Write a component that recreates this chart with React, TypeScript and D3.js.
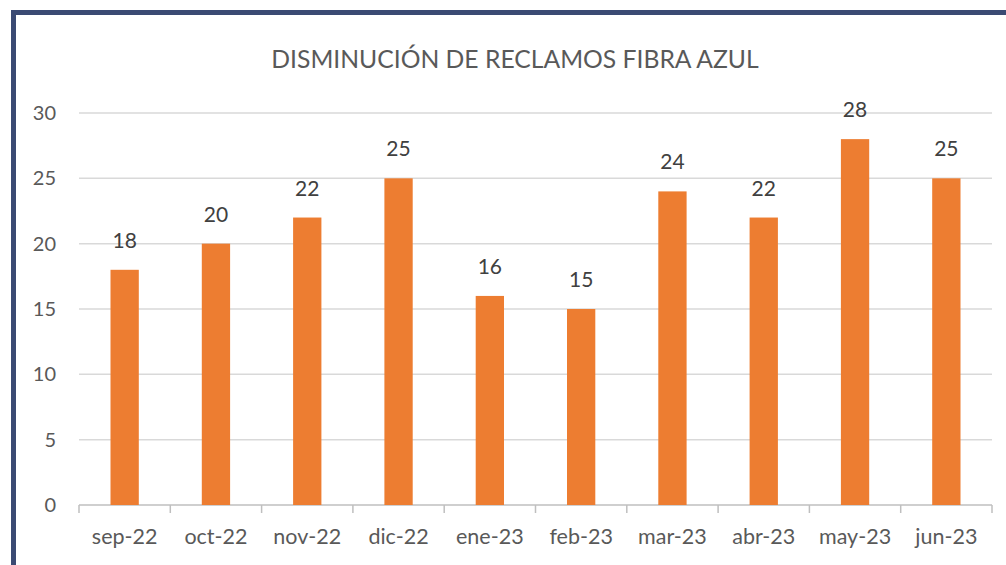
import React from "react";
import * as d3 from "d3";

const WIDTH = 1006;
const HEIGHT = 565;
const MARGIN = { top: 113, right: 14, bottom: 60, left: 79 };

const months = ["sep-22", "oct-22", "nov-22", "dic-22", "ene-23", "feb-23", "mar-23", "abr-23", "may-23", "jun-23"];
const reclamos = [18, 20, 22, 25, 16, 15, 24, 22, 28, 25];
const yTicks = [0, 5, 10, 15, 20, 25, 30];
const TITLE = "DISMINUCIÓN DE RECLAMOS FIBRA AZUL";

const FONT = "Lato, 'Open Sans', sans-serif";

const App = () => {
  const boundsWidth = WIDTH - MARGIN.left - MARGIN.right;
  const boundsHeight = HEIGHT - MARGIN.top - MARGIN.bottom;

  const xScale = d3.scaleBand().domain(months).range([0, boundsWidth]);
  const yScale = d3.scaleLinear().domain([0, 30]).range([boundsHeight, 0]);
  const barWidth = xScale.bandwidth() * 0.31;

  return (
    <svg
      width={WIDTH}
      height={HEIGHT}
      style={{ position: "absolute", left: 0, top: 0, background: "#fff" }}
      fontFamily={FONT}
    >
      {/* frame */}
      <rect x={11} y={10} width={WIDTH - 11} height={5} fill="#3b4a73" />
      <rect x={11} y={10} width={5} height={HEIGHT - 10} fill="#3b4a73" />

      <text x={515} y={68} textAnchor="middle" fontSize={24.7} fill="#595959">
        {TITLE}
      </text>

      <g transform={`translate(${MARGIN.left},${MARGIN.top})`}>
        {yTicks.map((t) => (
          <g key={t}>
            <line
              x1={0}
              x2={boundsWidth}
              y1={yScale(t)}
              y2={yScale(t)}
              stroke={t === 0 ? "#bfbfbf" : "#d9d9d9"}
              strokeWidth={1.5}
            />
            <text x={-23} y={yScale(t)} dy="0.35em" textAnchor="end" fontSize={20} fill="#595959">
              {t}
            </text>
          </g>
        ))}

        {/* category ticks */}
        {d3.range(months.length + 1).map((i) => {
          const x = i === months.length ? boundsWidth : (xScale(months[i]) as number);
          return (
            <line key={i} x1={x} x2={x} y1={boundsHeight} y2={boundsHeight + 8} stroke="#bfbfbf" strokeWidth={1.5} />
          );
        })}

        {months.map((m, i) => {
          const cx = (xScale(m) as number) + xScale.bandwidth() / 2;
          const v = reclamos[i];
          return (
            <g key={m}>
              <rect
                x={cx - barWidth / 2}
                y={yScale(v)}
                width={barWidth}
                height={boundsHeight - yScale(v)}
                fill="#ed7d31"
              />
              <text x={cx} y={yScale(v) - 22} textAnchor="middle" fontSize={21} fill="#404040">
                {v}
              </text>
              <text x={cx} y={boundsHeight + 39} textAnchor="middle" fontSize={21.5} fill="#595959">
                {m}
              </text>
            </g>
          );
        })}
      </g>
    </svg>
  );
};

export default App;
